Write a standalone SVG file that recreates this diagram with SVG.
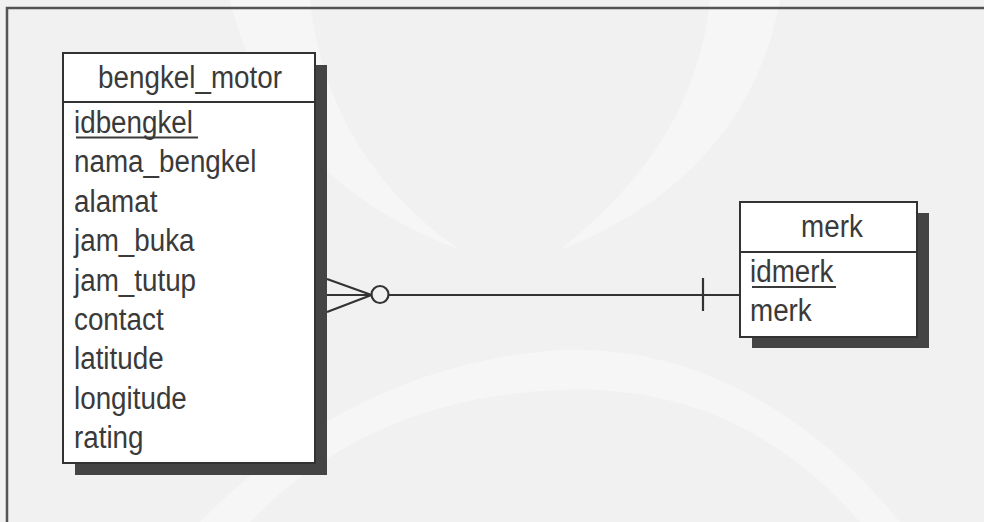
<svg xmlns="http://www.w3.org/2000/svg" width="984" height="522" viewBox="0 0 984 522">
<style>
.bg{fill:#f1f1f1}
.wm{fill:#f6f6f6}
.frame{fill:none;stroke:#555;stroke-width:2.5}
.shadow{fill:#444}
.box{fill:#fff;stroke:#333;stroke-width:2}
.div{stroke:#333;stroke-width:2}
.t{font-family:"Liberation Sans",Arial,sans-serif;font-size:27px;fill:#3a3a3a}
.hd{text-anchor:middle}
.ul{stroke:#3a3a3a;stroke-width:2}
.conn{fill:none;stroke:#333;stroke-width:2.2}
</style>
<rect class="bg" x="0" y="0" width="984" height="522"/>
<g id="watermark">
<path class="wm" d="M200,522 C300,420 420,360 560,350 C680,345 800,400 900,522 L860,522 C780,430 680,385 560,390 C430,395 330,440 250,522 Z"/>
<path class="wm" d="M230,0 C260,120 330,200 460,250 C360,180 320,90 310,0 Z"/>
<path class="wm" d="M780,0 C760,110 690,200 560,250 C660,170 700,90 710,0 Z"/>
</g>
<rect class="frame" x="7" y="8" width="1000" height="540"/>
<g id="connectors">
<line class="conn" x1="388.5" y1="295" x2="740" y2="295"/>
<line class="conn" x1="327" y1="295" x2="371.5" y2="295"/>
<line class="conn" x1="327" y1="279" x2="371.5" y2="295"/>
<line class="conn" x1="327" y1="312" x2="371.5" y2="295"/>
<circle class="conn" cx="380" cy="294.5" r="8.5"/>
<line class="conn" x1="703" y1="278" x2="703" y2="311"/>
</g>
<g id="bengkel_motor">
<rect class="shadow" x="75" y="65" width="252" height="410"/>
<rect class="box" x="63" y="53" width="252" height="410"/>
<line class="div" x1="63" y1="102" x2="315" y2="102"/>
<text class="t hd" transform="translate(190,88) scale(1.03,1.18)">bengkel_motor</text>
<text class="t" transform="translate(74,133) scale(1.03,1.18)">idbengkel</text>
<line class="ul" x1="76" y1="137.5" x2="198" y2="137.5"/>
<text class="t" transform="translate(74,172.4) scale(1.03,1.18)">nama_bengkel</text>
<text class="t" transform="translate(74,211.8) scale(1.03,1.18)">alamat</text>
<text class="t" transform="translate(74,251.2) scale(1.03,1.18)">jam_buka</text>
<text class="t" transform="translate(74,290.6) scale(1.03,1.18)">jam_tutup</text>
<text class="t" transform="translate(74,330) scale(1.03,1.18)">contact</text>
<text class="t" transform="translate(74,369.4) scale(1.03,1.18)">latitude</text>
<text class="t" transform="translate(74,408.8) scale(1.03,1.18)">longitude</text>
<text class="t" transform="translate(74,448.2) scale(1.03,1.18)">rating</text>
</g>
<g id="merk">
<rect class="shadow" x="752" y="213" width="177" height="135"/>
<rect class="box" x="740" y="202" width="177" height="135"/>
<line class="div" x1="740" y1="252" x2="917" y2="252"/>
<text class="t hd" transform="translate(832,237) scale(1.03,1.18)">merk</text>
<text class="t" transform="translate(750,282) scale(1.03,1.18)">idmerk</text>
<line class="ul" x1="752" y1="287" x2="836" y2="287"/>
<text class="t" transform="translate(750,321) scale(1.03,1.18)">merk</text>
</g>
</svg>
